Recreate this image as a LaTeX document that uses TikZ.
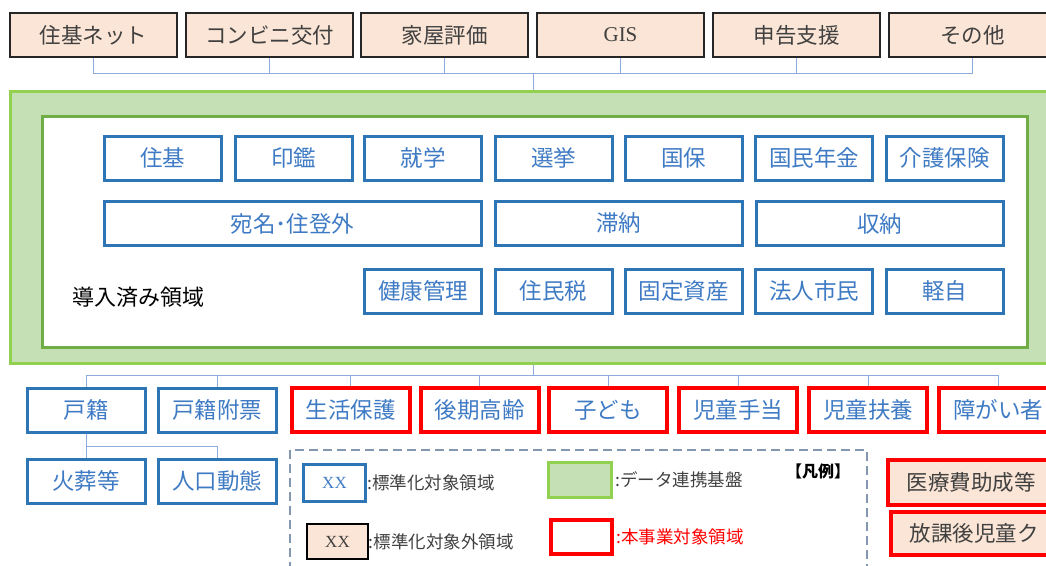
\documentclass[tikz,border=0pt]{standalone}
\usepackage{fontspec}
\setmainfont{Liberation Serif}
\newfontfamily\jp{Noto Sans CJK JP}
\definecolor{peach}{HTML}{FBE5D6}
\definecolor{bluebd}{HTML}{2E75B6}
\definecolor{bluetx}{HTML}{3F7BC4}
\definecolor{gfill}{HTML}{C5E0B4}
\definecolor{gbd}{HTML}{92D050}
\definecolor{gbdin}{HTML}{70AD47}
\definecolor{conn}{HTML}{8FAADC}
\definecolor{txgray}{HTML}{404040}
\definecolor{legd}{HTML}{8497B0}
\tikzset{
  topbox/.style={draw=black!85, line width=1.4pt, fill=peach, minimum width=167pt, minimum height=44pt, inner sep=0pt, text=txgray, font=\jp\fontsize{21.5}{22}\selectfont},
  bluebox/.style={draw=bluebd, line width=3pt, fill=white, minimum height=44pt, inner sep=0pt, text=bluetx, font=\jp\fontsize{22.5}{23}\selectfont},
  redbox/.style={draw=red, line width=4pt, fill=white, minimum width=118pt, minimum height=44pt, inner sep=0pt, text=bluetx, font=\jp\fontsize{22.5}{23}\selectfont},
  redpeach/.style={draw=red, line width=4pt, fill=peach, minimum width=166pt, inner sep=0pt, text=txgray, font=\jp\fontsize{21.5}{22}\selectfont},
  connline/.style={draw=conn, line width=1pt},
  legtext/.style={anchor=west, inner sep=0pt, text=txgray, font=\jp\fontsize{17.5}{18}\selectfont},
}
\begin{document}
\begin{tikzpicture}[x=1pt, y=-1pt]
\useasboundingbox (0,0) rectangle (1046,565);
\clip (0,0) rectangle (1046,565);
% top row
\node[topbox] (t1) at (93.5,35) {住基ネット};
\node[topbox] (t2) at (269.5,35) {コンビニ交付};
\node[topbox] (t3) at (444.5,35) {家屋評価};
\node[topbox, font=\rmfamily\fontsize{21}{22}\selectfont] (t4) at (620.5,35) {GIS};
\node[topbox] (t5) at (796.5,35) {申告支援};
\node[topbox] (t6) at (972.5,35) {その他};
% base
\node[draw=gbd, line width=3pt, fill=gfill, minimum width=1050pt, minimum height=272pt, inner sep=0pt] (base) at (535,227) {};
\node[draw=gbdin, line width=3pt, fill=white, minimum width=985pt, minimum height=231pt, inner sep=0pt] (inner) at (534.5,231.5) {};
\coordinate (hubT) at (533,73);
\draw[connline] (t1.south) -- (t1.south|-hubT) -- (t6.south|-hubT) -- (t6.south);
\foreach \n in {t2,t3,t4,t5} \draw[connline] (\n.south) -- (\n.south|-hubT);
\draw[connline] (hubT) -- (hubT|-base.north);
% row 1
\node[bluebox, minimum width=117pt] (a1) at (162.5,158) {住基};
\node[bluebox, minimum width=117pt] (a2) at (293.5,158) {印鑑};
\node[bluebox, minimum width=117pt] (a3) at (423,158) {就学};
\node[bluebox, minimum width=117pt] (a4) at (553.5,158) {選挙};
\node[bluebox, minimum width=117pt] (a5) at (683.5,158) {国保};
\node[bluebox, minimum width=117pt] (a6) at (814,158) {国民年金};
\node[bluebox, minimum width=117pt] (a7) at (944.5,158) {介護保険};
% row 2
\node[bluebox, minimum width=377pt] (b1) at (292.5,223.5) {宛名･住登外};
\node[bluebox, minimum width=247pt] (b2) at (618.5,223.5) {滞納};
\node[bluebox, minimum width=247pt] (b3) at (879.5,223.5) {収納};
% row 3
\node[bluebox, minimum width=117pt] (c1) at (423,291) {健康管理};
\node[bluebox, minimum width=117pt] (c2) at (553.5,291) {住民税};
\node[bluebox, minimum width=117pt] (c3) at (683.5,291) {固定資産};
\node[bluebox, minimum width=117pt] (c4) at (814,291) {法人市民};
\node[bluebox, minimum width=117pt] (c5) at (944.5,291) {軽自};
\node[anchor=west, inner sep=0pt, text=black, font=\jp\fontsize{22}{23}\selectfont] (lbl) at (72,297) {導入済み領域};
% bottom row
\node[bluebox, minimum width=118pt] (d1) at (86,410) {戸籍};
\node[bluebox, minimum width=118pt] (d2) at (217,410) {戸籍附票};
\node[redbox] (d3) at (350.5,410) {生活保護};
\node[redbox] (d4) at (479.5,410) {後期高齢};
\node[redbox] (d5) at (608,410) {子ども};
\node[redbox] (d6) at (738,410) {児童手当};
\node[redbox] (d7) at (868,410) {児童扶養};
\node[redbox] (d8) at (998,410) {障がい者};
\coordinate (hubB) at (533,375);
\draw[connline] (hubB|-base.south) -- (hubB);
\draw[connline] (d1.north) -- (d1.north|-hubB) -- (d8.north|-hubB) -- (d8.north);
\foreach \n in {d2,d3,d4,d5,d6,d7} \draw[connline] (\n.north) -- (\n.north|-hubB);
% second bottom row
\node[bluebox, minimum width=118pt] (e1) at (86,481) {火葬等};
\node[bluebox, minimum width=118pt] (e2) at (217,481) {人口動態};
\coordinate (hubE) at (86,446);
\draw[connline] (d1.south) -- (e1.north);
\draw[connline] (hubE) -| (e2.north);
% legend
\draw[draw=legd, line width=1.8pt, dash pattern=on 9pt off 5pt] (290,450) rectangle (867,580);
\node[draw=bluebd, line width=3pt, fill=white, minimum width=62pt, minimum height=37pt, inner sep=0pt, text=bluetx, font=\rmfamily\fontsize{17}{18}\selectfont] (l1) at (334.5,482.5) {XX};
\node[legtext] (l1t) at (l1.east) {:標準化対象領域};
\node[draw=black, line width=1.4pt, fill=peach, minimum width=61pt, minimum height=35pt, inner sep=0pt, text=txgray, font=\rmfamily\fontsize{17}{18}\selectfont] (l2) at (337.5,541.5) {XX};
\node[legtext] (l2t) at (l2.east) {:標準化対象外領域};
\node[draw=gbd, line width=3pt, fill=gfill, minimum width=63pt, minimum height=35pt, inner sep=0pt] (l3) at (580,480) {};
\node[legtext] (l3t) at ([xshift=2pt]l3.east) {:データ連携基盤};
\node[draw=red, line width=4pt, fill=white, minimum width=61pt, minimum height=34pt, inner sep=0pt] (l4) at (581.5,537) {};
\node[legtext, text=red] (l4t) at ([xshift=2pt]l4.east) {:本事業対象領域};
\node[inner sep=0pt, text=black, font=\jp\bfseries\fontsize{16}{17}\selectfont] (leg) at (818,471) {【凡例】};
% right boxes
\node[redpeach, minimum height=45pt] (r1) at (971,482.5) {医療費助成等};
\node[redpeach, minimum height=43pt] (r2) at (974,533.5) {放課後児童ク};
\end{tikzpicture}
\end{document}
